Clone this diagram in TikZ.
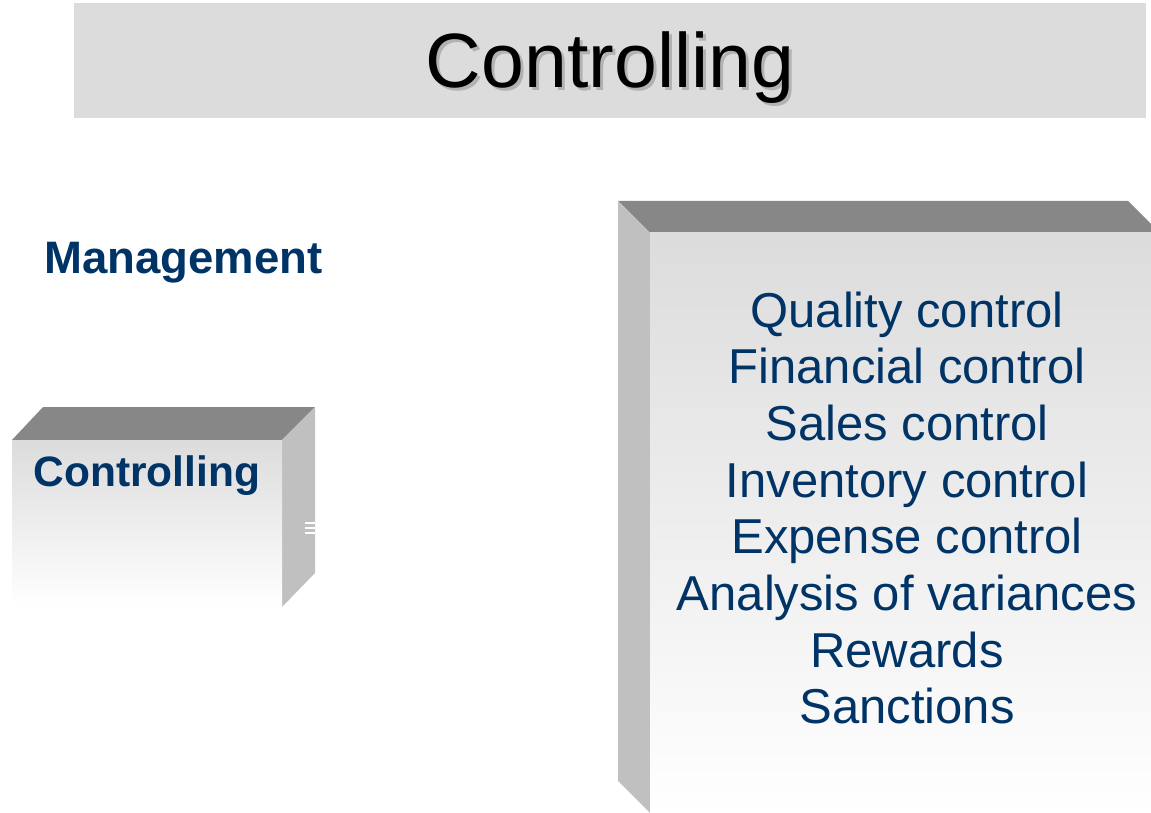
\documentclass[tikz,border=0pt]{standalone}
\usepackage{fontspec}
\setmainfont{Liberation Sans}
\usepackage{tikz}
\usetikzlibrary{
	positioning
}
\definecolor{navy}{RGB}{0,51,102}
\definecolor{topgray}{RGB}{135,135,135}
\definecolor{sidegray}{RGB}{192,192,192}
\definecolor{facegray}{RGB}{220,220,220}
\tikzset{
	x=1pt, y=-1pt,
	titlebar/.style={fill=facegray, draw=none},
	titletext/.style={font=\fontsize{77}{80}\selectfont, text=black, inner sep=0pt},
	titleshadow/.style={titletext, text=black!30},
	boxtop/.style={fill=topgray},
	boxside/.style={fill=sidegray},
	boxfront/.style={top color=facegray, bottom color=white},
	headtext/.style={font=\fontsize{42.5}{48}\bfseries\selectfont, text=navy, inner sep=0pt},
	listtext/.style={font=\fontsize{49}{56.7}\selectfont, text=navy, align=center, inner sep=0pt}
}

\begin{document}
\begin{tikzpicture}
	\useasboundingbox (0,0) rectangle (1151,813);
	\clip (0,0) rectangle (1151,813);

	% title bar
	\fill[titlebar] (74,3) rectangle (1146,118);
	\node[titleshadow, anchor=base] (titleshadow) at (613,91) {Controlling};
	\node[titletext, anchor=base] (title) at (610,88) {Controlling};

	\node[headtext, anchor=base west, font=\fontsize{45.5}{50}\bfseries\selectfont] (management) at (44,273) {Management};

	% small box
	\fill[boxtop] (43,407) -- (315,407) -- (282,440) -- (12,440) -- cycle;
	\fill[boxside] (315,407) -- (315,573) -- (282,607) -- (282,440) -- cycle;
	\shade[boxfront] (12,440) rectangle (282,607);
	\node[headtext, anchor=base] (controlling) at (147,486) {Controlling};
	\foreach \y in {523,528,533}
		\draw[white, line width=1.5pt] (305,\y) -- (315,\y);

	% big box
	\fill[boxtop] (618,201) -- (1128,201) -- (1160,233) -- (650,233) -- cycle;
	\fill[boxside] (618,201) -- (650,233) -- (650,813) -- (618,781) -- cycle;
	\shade[boxfront] (650,233) rectangle (1160,813);
	\node[listtext] (tasks) at (907,508) {Quality control\\Financial control\\Sales control\\Inventory control\\Expense control\\Analysis of variances\\Rewards\\Sanctions};
\end{tikzpicture}
\end{document}
